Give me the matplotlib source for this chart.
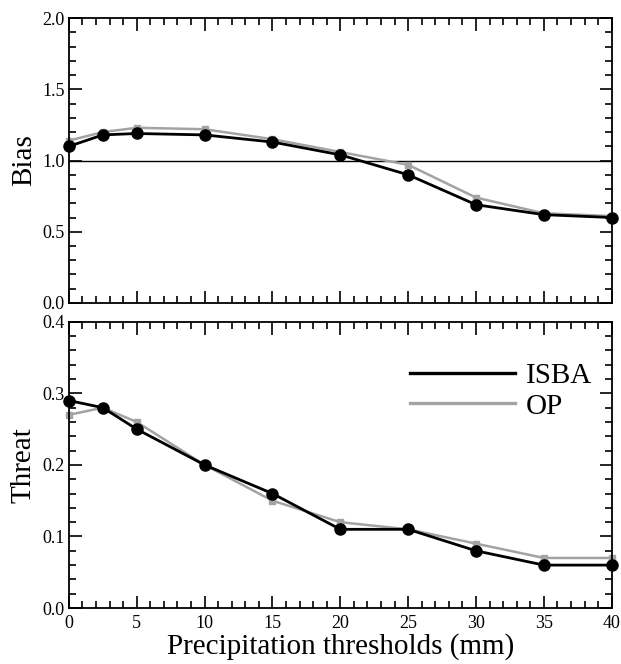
import numpy as np
import matplotlib
matplotlib.use("Agg")
import matplotlib.pyplot as plt
from matplotlib.ticker import MultipleLocator, FormatStrFormatter
from matplotlib.lines import Line2D

plt.rcParams['font.family'] = ['Liberation Serif', 'DejaVu Serif']

# precipitation thresholds (mm)
thresholds = [0, 2.5, 5, 10, 15, 20, 25, 30, 35, 40]

# bias scores
bias_isba = [1.10, 1.18, 1.19, 1.18, 1.13, 1.04, 0.90, 0.69, 0.62, 0.60]
bias_op = [1.14, 1.20, 1.23, 1.22, 1.15, 1.06, 0.97, 0.74, 0.63, 0.61]

# threat scores
threat_isba = [0.29, 0.28, 0.25, 0.20, 0.16, 0.11, 0.11, 0.08, 0.06, 0.06]
threat_op = [0.27, 0.28, 0.26, 0.20, 0.15, 0.12, 0.11, 0.09, 0.07, 0.07]

gray = "#a3a3a3"

fig = plt.figure(figsize=(6.21, 6.64), dpi=100)
ax1 = fig.add_axes([0.111, 0.5437, 0.874, 0.429])
ax2 = fig.add_axes([0.111, 0.0843, 0.874, 0.431])


def style_axes(ax, ymax, major, minor):
    ax.set_xlim(0, 40)
    ax.set_ylim(0, ymax)
    ax.xaxis.set_major_locator(MultipleLocator(5))
    ax.xaxis.set_minor_locator(MultipleLocator(1))
    ax.yaxis.set_major_locator(MultipleLocator(major))
    ax.yaxis.set_minor_locator(MultipleLocator(minor))
    ax.yaxis.set_major_formatter(FormatStrFormatter("%.1f"))
    ax.tick_params(which="both", direction="in", top=True, right=True,
                   labelsize=13, width=1.2, pad=3)
    ax.tick_params(axis="x", which="both", pad=5)
    ax.tick_params(which="major", length=9)
    ax.tick_params(which="minor", length=5)
    for sp in ax.spines.values():
        sp.set_linewidth(1.3)


# top panel: bias
ax1.axhline(1.0, color="black", lw=1.0, zorder=1)
ax1.plot(thresholds, bias_op, color=gray, lw=1.8, marker="s", ms=5,
         mfc=gray, mec=gray, zorder=2, clip_on=False)
ax1.plot(thresholds, bias_isba, color="black", lw=2.0, marker="o", ms=8,
         zorder=3, clip_on=False)
style_axes(ax1, 2.0, 0.5, 0.1)
ax1.tick_params(labelbottom=False)
ax1.set_ylabel("Bias", fontsize=21, labelpad=4)

# bottom panel: threat
ax2.plot(thresholds, threat_op, color=gray, lw=1.8, marker="s", ms=5,
         mfc=gray, mec=gray, zorder=2, clip_on=False)
ax2.plot(thresholds, threat_isba, color="black", lw=2.0, marker="o", ms=8,
         zorder=3, clip_on=False)
style_axes(ax2, 0.4, 0.1, 0.02)
ax2.set_ylabel("Threat", fontsize=21, labelpad=4)
ax2.set_xlabel("Precipitation thresholds (mm)", fontsize=21, labelpad=1)

handles = [Line2D([], [], color="black", lw=2.4),
           Line2D([], [], color=gray, lw=2.4)]
ax2.legend(handles, ["ISBA", "OP"], loc="upper right", frameon=False,
           fontsize=21, handlelength=3.6, handletextpad=0.4,
           bbox_to_anchor=(1.013, 0.95), labelspacing=0.15)

fig.savefig("out.png", dpi=100)
